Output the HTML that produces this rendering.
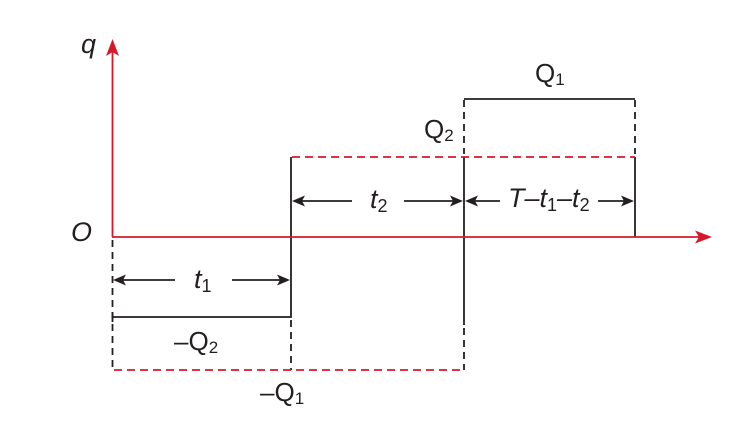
<!DOCTYPE html>
<html>
<head>
<meta charset="utf-8">
<style>
  html,body{margin:0;padding:0;background:#fff;}
  svg{display:block;}
  text{font-family:"Liberation Sans",Arial,sans-serif;fill:#231f20;}
  .it{font-style:italic;}
  .sub{font-style:normal;}
</style>
</head>
<body>
<svg width="752" height="427" viewBox="0 0 752 427" xmlns="http://www.w3.org/2000/svg">
  <rect width="752" height="427" fill="#fff"/>

  <!-- black solid lines -->
  <g stroke="#231f20" stroke-width="1.8" fill="none">
    <path d="M112.5 317 H291 V157"/>
    <path d="M112.5 312 V322"/>
    <path d="M464 157 V325"/>
    <path d="M464 99 H635"/>
    <path d="M635 157 V237"/>
  </g>
  <!-- black dashed lines -->
  <g stroke="#231f20" stroke-width="1.8" fill="none" stroke-dasharray="7 5">
    <path d="M112.5 240 V370"/>
    <path d="M291 320 V370"/>
    <path d="M464 328 V370"/>
    <path d="M464 100 V154"/>
    <path d="M635 100 V154"/>
  </g>
  <!-- red dashed -->
  <g stroke="#d7182a" stroke-width="1.8" fill="none" stroke-dasharray="8 5">
    <path d="M292 157 H635"/>
    <path d="M114 370 H464"/>
  </g>

  <!-- axes -->
  <g stroke="#d7182a" stroke-width="1.8" fill="none">
    <path d="M112.5 237 V50"/>
    <path d="M112 237 H700"/>
  </g>
  <polygon points="112.5,39 106,56 112.5,52 119,56" fill="#d7182a"/>
  <polygon points="712,237 695,230.5 699,237 695,243.5" fill="#d7182a"/>

  <!-- dimension arrows -->
  <g stroke="#231f20" stroke-width="1.8" fill="none">
    <path d="M120 280 H175"/>
    <path d="M232 280 H282"/>
    <path d="M300 201 H352"/>
    <path d="M404 201 H455"/>
    <path d="M473 201 H500"/>
    <path d="M598 201 H626"/>
  </g>
  <g fill="#231f20">
    <polygon points="113,280 126,274.5 123,280 126,285.5"/>
    <polygon points="290,280 277,274.5 280,280 277,285.5"/>
    <polygon points="292,201 305,195.5 302,201 305,206.5"/>
    <polygon points="463,201 450,195.5 453,201 450,206.5"/>
    <polygon points="465,201 478,195.5 475,201 478,206.5"/>
    <polygon points="634,201 621,195.5 624,201 621,206.5"/>
  </g>

  <!-- labels -->
  <text x="81" y="53" font-size="27" class="it">q</text>
  <text x="71" y="241" font-size="27" class="it">O</text>

  <text x="535" y="82" font-size="26">Q<tspan font-size="17" dy="3">1</tspan></text>
  <text x="424" y="138" font-size="26">Q<tspan font-size="17" dy="3">2</tspan></text>

  <text x="370" y="208" font-size="27" class="it">t<tspan class="sub" font-size="18" dy="4">2</tspan></text>
  <text x="508" y="207" font-size="27" class="it">T–t<tspan class="sub" font-size="18" dy="4">1</tspan><tspan dy="-4">–t</tspan><tspan class="sub" font-size="18" dy="4">2</tspan></text>

  <text x="194" y="288" font-size="27" class="it">t<tspan class="sub" font-size="18" dy="4">1</tspan></text>

  <text x="174" y="350" font-size="26">–Q<tspan font-size="17" dy="3">2</tspan></text>
  <text x="260" y="401" font-size="26">–Q<tspan font-size="17" dy="3">1</tspan></text>
</svg>
</body>
</html>
